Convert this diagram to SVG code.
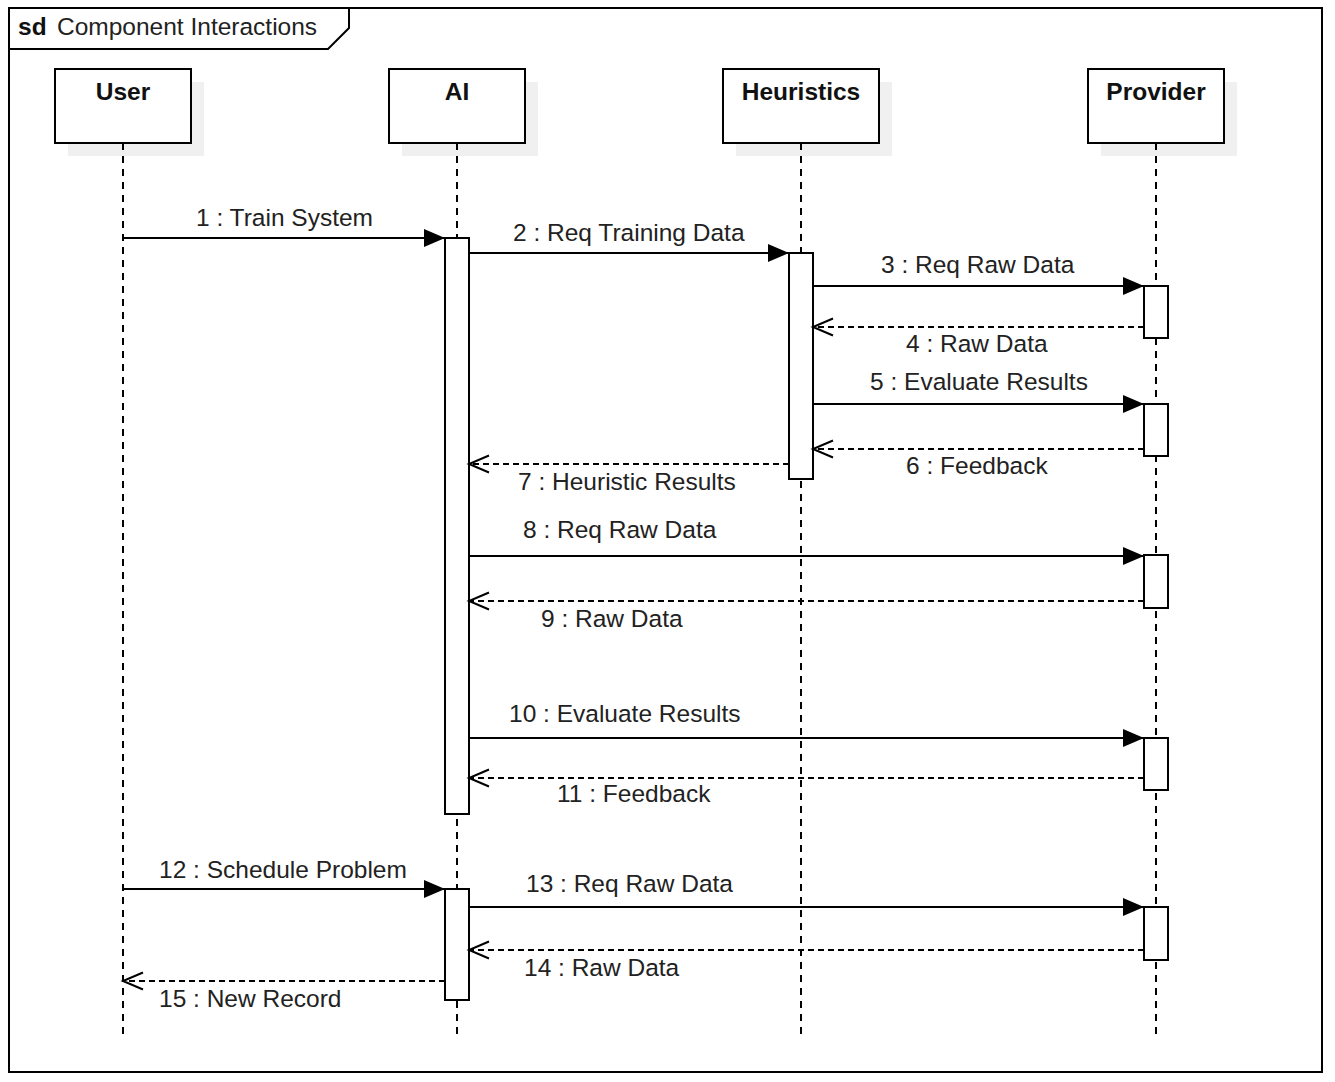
<svg xmlns="http://www.w3.org/2000/svg" width="1335" height="1082" viewBox="0 0 1335 1082">
<style>
.frame{fill:none;stroke:#000;stroke-width:2}
.head{fill:#fff;stroke:#000;stroke-width:2}
.shadow{fill:#f0f0f0;stroke:none}
.life{fill:none;stroke:#000;stroke-width:2;stroke-dasharray:7 6}
.bar{fill:#fff;stroke:#000;stroke-width:2}
.msg{fill:none;stroke:#000;stroke-width:2}
.ret{fill:none;stroke:#000;stroke-width:1.8;stroke-dasharray:6 4}
.name{font-family:"Liberation Sans",Arial,sans-serif;font-size:24.5px;font-weight:bold;fill:#111;text-anchor:middle}
.lbl{font-family:"Liberation Sans",Arial,sans-serif;font-size:24.5px;fill:#222}
</style>
<defs>
<marker id="solid" markerWidth="24" markerHeight="20" refX="22" refY="10" orient="auto" markerUnits="userSpaceOnUse">
<path d="M1,1 L22,10 L1,19 Z" fill="#000"/>
</marker>
<marker id="open" markerWidth="24" markerHeight="22" refX="21" refY="11" orient="auto" markerUnits="userSpaceOnUse">
<path d="M1,2.5 L21,11 L1,19.5" fill="none" stroke="#000" stroke-width="2"/>
</marker>
</defs>
<rect width="1335" height="1082" fill="#fff"/>
<g id="frame">
<rect class="frame" x="9" y="8" width="1313" height="1064"/>
<path class="frame" d="M9,49 L328,49 L349,28 L349,8"/>
<text x="18" y="35" font-family="'Liberation Sans',Arial,sans-serif" font-size="24.5" font-weight="bold" fill="#111">sd</text>
<text x="57" y="35" class="lbl">Component Interactions</text>
</g>
<g id="lifeline-user">
<rect class="shadow" x="68" y="82" width="136" height="74"/>
<rect class="head" x="55" y="69" width="136" height="74"/>
<text class="name" x="123" y="100">User</text>
<line class="life" x1="123" y1="143" x2="123" y2="1038"/>
</g>
<g id="lifeline-ai">
<rect class="shadow" x="402" y="82" width="136" height="74"/>
<rect class="head" x="389" y="69" width="136" height="74"/>
<text class="name" x="457" y="100">AI</text>
<line class="life" x1="457" y1="143" x2="457" y2="1038"/>
<rect class="bar" x="445" y="238" width="24" height="576"/>
<rect class="bar" x="445" y="889" width="24" height="111"/>
</g>
<g id="lifeline-heuristics">
<rect class="shadow" x="736" y="82" width="156" height="74"/>
<rect class="head" x="723" y="69" width="156" height="74"/>
<text class="name" x="801" y="100">Heuristics</text>
<line class="life" x1="801" y1="143" x2="801" y2="1038"/>
<rect class="bar" x="789" y="253" width="24" height="226"/>
</g>
<g id="lifeline-provider">
<rect class="shadow" x="1101" y="82" width="136" height="74"/>
<rect class="head" x="1088" y="69" width="136" height="74"/>
<text class="name" x="1156" y="100">Provider</text>
<line class="life" x1="1156" y1="143" x2="1156" y2="1038"/>
<rect class="bar" x="1144" y="286" width="24" height="52"/>
<rect class="bar" x="1144" y="404" width="24" height="52"/>
<rect class="bar" x="1144" y="555" width="24" height="53"/>
<rect class="bar" x="1144" y="738" width="24" height="52"/>
<rect class="bar" x="1144" y="907" width="24" height="53"/>
</g>
<g id="connectors">
<line class="msg" x1="123" y1="238" x2="445" y2="238" marker-end="url(#solid)"/>
<text class="lbl" x="196" y="226">1 : Train System</text>
<line class="msg" x1="469" y1="253" x2="789" y2="253" marker-end="url(#solid)"/>
<text class="lbl" x="513" y="241">2 : Req Training Data</text>
<line class="msg" x1="813" y1="286" x2="1144" y2="286" marker-end="url(#solid)"/>
<text class="lbl" x="881" y="273">3 : Req Raw Data</text>
<line class="ret" x1="1144" y1="327" x2="813" y2="327" marker-end="url(#open)"/>
<text class="lbl" x="906" y="352">4 : Raw Data</text>
<line class="msg" x1="813" y1="404" x2="1144" y2="404" marker-end="url(#solid)"/>
<text class="lbl" x="870" y="390">5 : Evaluate Results</text>
<line class="ret" x1="1144" y1="449" x2="813" y2="449" marker-end="url(#open)"/>
<text class="lbl" x="906" y="474">6 : Feedback</text>
<line class="ret" x1="789" y1="464" x2="469" y2="464" marker-end="url(#open)"/>
<text class="lbl" x="518" y="490">7 : Heuristic Results</text>
<line class="msg" x1="469" y1="556" x2="1144" y2="556" marker-end="url(#solid)"/>
<text class="lbl" x="523" y="538">8 : Req Raw Data</text>
<line class="ret" x1="1144" y1="601" x2="469" y2="601" marker-end="url(#open)"/>
<text class="lbl" x="541" y="627">9 : Raw Data</text>
<line class="msg" x1="469" y1="738" x2="1144" y2="738" marker-end="url(#solid)"/>
<text class="lbl" x="509" y="722">10 : Evaluate Results</text>
<line class="ret" x1="1144" y1="778" x2="469" y2="778" marker-end="url(#open)"/>
<text class="lbl" x="557" y="802">11 : Feedback</text>
<line class="msg" x1="123" y1="889" x2="445" y2="889" marker-end="url(#solid)"/>
<text class="lbl" x="159" y="878">12 : Schedule Problem</text>
<line class="msg" x1="469" y1="907" x2="1144" y2="907" marker-end="url(#solid)"/>
<text class="lbl" x="526" y="892">13 : Req Raw Data</text>
<line class="ret" x1="1144" y1="950" x2="469" y2="950" marker-end="url(#open)"/>
<text class="lbl" x="524" y="976">14 : Raw Data</text>
<line class="ret" x1="445" y1="981" x2="123" y2="981" marker-end="url(#open)"/>
<text class="lbl" x="159" y="1007">15 : New Record</text>
</g>
</svg>
